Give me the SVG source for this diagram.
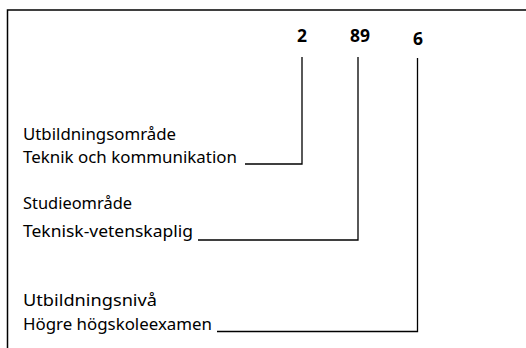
<svg xmlns="http://www.w3.org/2000/svg" width="526" height="348" viewBox="0 0 526 348">
<style>
.t{font-family:"Noto Sans","Open Sans",sans-serif;font-size:17px;fill:#000}
.n{font-family:"Noto Sans","Open Sans",sans-serif;font-size:18px;font-weight:bold;fill:#000}
.c{fill:none;stroke:#000;stroke-width:1.3}
.f{fill:none;stroke:#000;stroke-width:1.5}
</style>
<rect width="526" height="348" fill="#fff"/>
<g id="frame"><path class="f" d="M7.5,348 V10 H526"/></g>
<g id="code">
<text class="n" x="297" y="42" textLength="10" lengthAdjust="spacingAndGlyphs">2</text>
<text class="n" x="350" y="42" textLength="20" lengthAdjust="spacingAndGlyphs">89</text>
<text class="n" x="413" y="45" textLength="10" lengthAdjust="spacingAndGlyphs">6</text>
</g>
<g id="node-utbildningsomrade">
<text class="t" x="23" y="140" textLength="153" lengthAdjust="spacingAndGlyphs">Utbildningsområde</text>
<text class="t" x="23" y="162.5" textLength="214" lengthAdjust="spacingAndGlyphs">Teknik och kommunikation</text>
</g>
<g id="node-studieomrade">
<text class="t" x="23" y="209" textLength="109" lengthAdjust="spacingAndGlyphs">Studieområde</text>
<text class="t" x="23" y="236.5" textLength="170" lengthAdjust="spacingAndGlyphs">Teknisk-vetenskaplig</text>
</g>
<g id="node-utbildningsniva">
<text class="t" x="23" y="306" textLength="134" lengthAdjust="spacingAndGlyphs">Utbildningsnivå</text>
<text class="t" x="23" y="329.5" textLength="189" lengthAdjust="spacingAndGlyphs">Högre högskoleexamen</text>
</g>
<g id="connectors">
<path class="c" d="M302,57 V164 H245"/>
<path class="c" d="M358,57 V240 H198"/>
<path class="c" d="M417.5,58 V331.5 H217"/>
</g>
</svg>
